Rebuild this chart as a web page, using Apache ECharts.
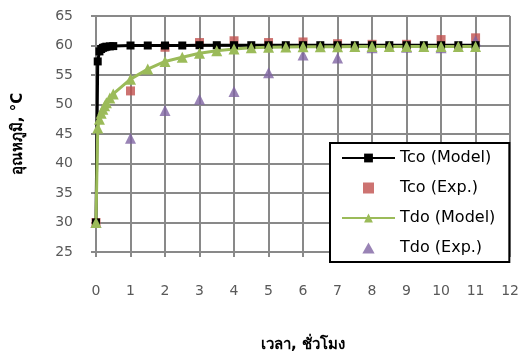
<!DOCTYPE html>
<html>
<head>
<meta charset="utf-8">
<script src="https://cdn.jsdelivr.net/npm/echarts@6/dist/echarts.min.js"></script>
<style>
html,body{margin:0;padding:0;background:#fff;}
#c{width:522px;height:358px;}
</style>
</head>
<body>
<div id="c"></div>
<script>
// Data
var modelTime = [0, 0.05, 0.1, 0.15, 0.2, 0.25, 0.3, 0.4, 0.5, 1, 1.5, 2, 2.5, 3, 3.5, 4, 4.5, 5, 5.5, 6, 6.5, 7, 7.5, 8, 8.5, 9, 9.5, 10, 10.5, 11];
var tcoModel = [30, 57.3, 59.0, 59.4, 59.6, 59.7, 59.8, 59.85, 59.9, 60.0, 60.0, 60.0, 60.0, 60.05, 60.05, 60.05, 60.05, 60.05, 60.05, 60.05, 60.05, 60.05, 60.05, 60.05, 60.05, 60.05, 60.05, 60.05, 60.05, 60.05];
var tdoModel = [30, 46.0, 47.5, 48.5, 49.2, 49.8, 50.3, 51.1, 51.8, 54.3, 56.0, 57.3, 58.0, 58.7, 59.1, 59.4, 59.6, 59.7, 59.75, 59.8, 59.8, 59.8, 59.85, 59.85, 59.85, 59.85, 59.85, 59.85, 59.85, 59.85];
var expTime = [0, 1, 2, 3, 4, 5, 6, 7, 8, 9, 10, 11];
var tcoExp = [30, 52.3, 59.7, 60.5, 60.8, 60.5, 60.6, 60.3, 60.2, 60.2, 61.0, 61.3];
var tdoExp = [30, 44.3, 49.0, 50.9, 52.2, 55.4, 58.4, 57.9, 59.6, 59.7, 59.6, 60.8];
var seriesNames = ['Tco (Model)', 'Tco (Exp.)', 'Tdo (Model)', 'Tdo (Exp.)'];
var xTitle = 'เวลา, ชั่วโมง';
var yTitle = 'อุณหภูมิ, °C';

function pairs(xs, ys){ return xs.map(function(x,i){ return [x, ys[i]]; }); }

var FONT = 'Tahoma, "DejaVu Sans", "Noto Sans", sans-serif';
var SQUARE = 'path://M0,0L10,0L10,10L0,10Z';
var TRI = 'path://M5,0L10,9L0,9Z';
var chart = echarts.init(document.getElementById('c'), null, {renderer:'canvas'});
var gridColor = '#898989';
chart.setOption({
  animation: false,
  backgroundColor: '#fff',
  textStyle: {fontFamily: FONT},
  grid: {left: 96, right: 9, top: 16, bottom: 94, containLabel: false},
  xAxis: {
    type: 'value', min: 0, max: 12, interval: 1,
    name: xTitle, nameLocation: 'middle', nameGap: 86,
    nameTextStyle: {fontFamily: FONT, fontSize: 15, fontWeight: 'bold', color: '#000'},
    axisLine: {show: true, lineStyle: {color: gridColor, width: 2}},
    axisTick: {show: true, inside: false, length: 5, lineStyle: {color: gridColor, width: 2}},
    axisLabel: {margin: 32, fontSize: 14, color: '#595959', fontFamily: FONT},
    splitLine: {show: true, lineStyle: {color: gridColor, width: 2}}
  },
  yAxis: {
    type: 'value', min: 25, max: 65, interval: 5,
    name: yTitle, nameLocation: 'middle', nameGap: 70, nameRotate: 90,
    nameTextStyle: {fontFamily: FONT, fontSize: 15, fontWeight: 'bold', color: '#000'},
    axisLine: {show: true, lineStyle: {color: gridColor, width: 2}},
    axisTick: {show: true, inside: false, length: 5, lineStyle: {color: gridColor, width: 2}},
    axisLabel: {margin: 23, fontSize: 14, color: '#595959', fontFamily: FONT},
    splitLine: {show: true, lineStyle: {color: gridColor, width: 2}}
  },
  legend: {
    orient: 'vertical', left: 330, top: 143,
    data: [
      {name: seriesNames[0]},
      {name: seriesNames[1], icon: SQUARE},
      {name: seriesNames[2]},
      {name: seriesNames[3], icon: TRI}
    ],
    symbolKeepAspect: true,
    backgroundColor: '#fff', borderColor: '#000', borderWidth: 2,
    padding: [7, 14, 6, 11],
    itemWidth: 53, itemHeight: 11, itemGap: 14,
    textStyle: {fontFamily: FONT, fontSize: 16, color: '#000'}
  },
  series: [
    {name: seriesNames[0], type: 'line', data: pairs(modelTime, tcoModel),
     symbol: 'rect', symbolSize: 8, showSymbol: true, showAllSymbol: true,
     lineStyle: {color: '#000', width: 3}, itemStyle: {color: '#000'}},
    {name: seriesNames[1], type: 'scatter', data: pairs(expTime, tcoExp),
     symbol: 'rect', symbolSize: 9, itemStyle: {color: '#C0504D'}},
    {name: seriesNames[2], type: 'line', data: pairs(modelTime, tdoModel),
     symbol: 'triangle', symbolSize: 11, showSymbol: true, showAllSymbol: true,
     lineStyle: {color: '#9BBB59', width: 3}, itemStyle: {color: '#9BBB59'}},
    {name: seriesNames[3], type: 'scatter', data: pairs(expTime, tdoExp),
     symbol: 'triangle', symbolSize: 11, itemStyle: {color: '#8064A2'}}
  ]
});
</script>
</body>
</html>
